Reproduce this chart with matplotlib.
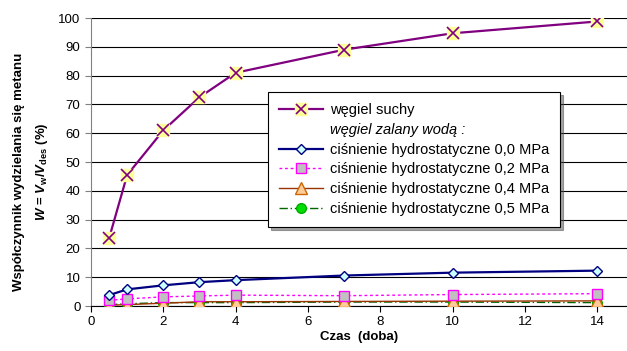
import matplotlib
matplotlib.use("Agg")
import matplotlib.pyplot as plt
from matplotlib.lines import Line2D

plt.rcParams['font.family'] = ['Liberation Sans', 'DejaVu Sans']
plt.rcParams['mathtext.fontset'] = 'custom'
plt.rcParams['mathtext.rm'] = 'Liberation Sans'
plt.rcParams['mathtext.it'] = 'Liberation Sans:italic'
plt.rcParams['mathtext.bf'] = 'Liberation Sans:bold'
plt.rcParams['mathtext.bfit'] = 'Liberation Sans:italic:bold'

days = [0.5, 1, 2, 3, 4, 7, 10, 14]
dry = [23.5, 45.5, 61.0, 72.5, 81.0, 89.0, 94.7, 98.8]
p00 = [3.8, 5.8, 7.2, 8.3, 9.0, 10.6, 11.6, 12.3]
p02 = [2.0, 2.5, 3.2, 3.5, 3.8, 3.6, 4.0, 4.3]
p04 = [0.3, 0.5, 1.0, 1.5, 1.5, 1.6, 1.7, 1.8]
p05 = [0.5, 0.8, 1.2, 1.2, 1.2, 1.4, 1.4, 1.2]

labels = ['węgiel suchy', 'węgiel zalany wodą :',
          'ciśnienie hydrostatyczne 0,0 MPa',
          'ciśnienie hydrostatyczne 0,2 MPa',
          'ciśnienie hydrostatyczne 0,4 MPa',
          'ciśnienie hydrostatyczne 0,5 MPa']
xticks = [0, 2, 4, 6, 8, 10, 12, 14]
yticks = list(range(0, 101, 10))

fig = plt.figure(figsize=(6.27, 3.51), dpi=100)
ax = fig.add_axes([0.1451, 0.128, 0.855, 0.8207])

ax.set_xlim(0, 14.82)
ax.set_ylim(0, 100)
ax.set_xticks(xticks)
ax.set_yticks(yticks)
ax.yaxis.grid(True, color='black', linewidth=0.8)
ax.set_axisbelow(True)
for s in ['top', 'right']:
    ax.spines[s].set_visible(False)
ax.spines['left'].set_color('#808080')
ax.spines['bottom'].set_color('black')
ax.tick_params(axis='both', labelsize=9.5, length=4, direction='out', colors='black')
ax.tick_params(axis='y', color='#808080')

# series
ax.plot(days, p05, color='#006600', lw=1, ls=(0, (6, 2, 1, 2)), marker='o', ms=7,
        mfc='#00dd00', mec='#00aa00', zorder=3)
ax.plot(days, p04, color='#993300', lw=1, marker='^', ms=8,
        mfc='#ffcc99', mec='#cc6600', zorder=3)
ax.plot(days, p02, color='#ff00ff', lw=1, ls=(0, (2, 2)), marker='s', ms=7,
        mfc='#c0c0c0', mec='#ff00ff', zorder=3)
ax.plot(days, p00, color='#000080', lw=1.6, marker='D', ms=5.5,
        mfc='#ccffff', mec='#000080', zorder=4)
ax.plot(days, dry, color='#800080', lw=1.6, zorder=4)
ax.plot(days, dry, ls='none', marker='s', ms=9, mfc='#ffff99', mec='#ffff99', zorder=5)
ax.plot(days, dry, ls='none', marker='x', ms=8, mew=1.2, color='#800080', zorder=6)

ax.set_xlabel('Czas  (doba)', fontsize=9.5, fontweight='bold', labelpad=2)
fig.text(0.03, 0.51, 'Współczynnik wydzielania się metanu', rotation=90,
         ha='center', va='center', fontsize=9.5, fontweight='bold')
fig.text(0.067, 0.51,
         r'$\mathbfit{W}$ = $\mathbfit{V}_{\mathbf{w}}$/$\mathbfit{V}_{\mathbf{des}}$ (%)',
         rotation=90, ha='center', va='center', fontsize=9.5, fontweight='bold')

h_dry = (Line2D([], [], color='#800080', lw=1.6),
         Line2D([], [], ls='none', marker='s', ms=8, mfc='#ffff99', mec='#ffff99'),
         Line2D([], [], ls='none', marker='x', ms=7, mew=1.2, color='#800080'))
h_blank = Line2D([], [], ls='none')
h00 = Line2D([], [], color='#000080', lw=1.6, marker='D', ms=5.5, mfc='#ccffff', mec='#000080')
h02 = Line2D([], [], color='#ff00ff', lw=1, ls=(0, (2, 2)), marker='s', ms=7, mfc='#c0c0c0', mec='#ff00ff')
h04 = Line2D([], [], color='#993300', lw=1, marker='^', ms=8, mfc='#ffcc99', mec='#cc6600')
h05 = Line2D([], [], color='#006600', lw=1, ls=(0, (6, 2, 1, 2)), marker='o', ms=7, mfc='#00dd00', mec='#00aa00')

leg = ax.legend([h_dry, h_blank, h00, h02, h04, h05], labels,
                loc='upper left', bbox_to_anchor=(0.330, 0.743), fontsize=10.5,
                frameon=True, fancybox=False, shadow=True, edgecolor='black',
                framealpha=1, handlelength=3.0, handletextpad=0.5,
                labelspacing=0.4, borderpad=0.75, borderaxespad=0)
leg.get_frame().set_linewidth(0.8)
leg.get_texts()[1].set_style('italic')

fig.savefig('out.png', dpi=100)
